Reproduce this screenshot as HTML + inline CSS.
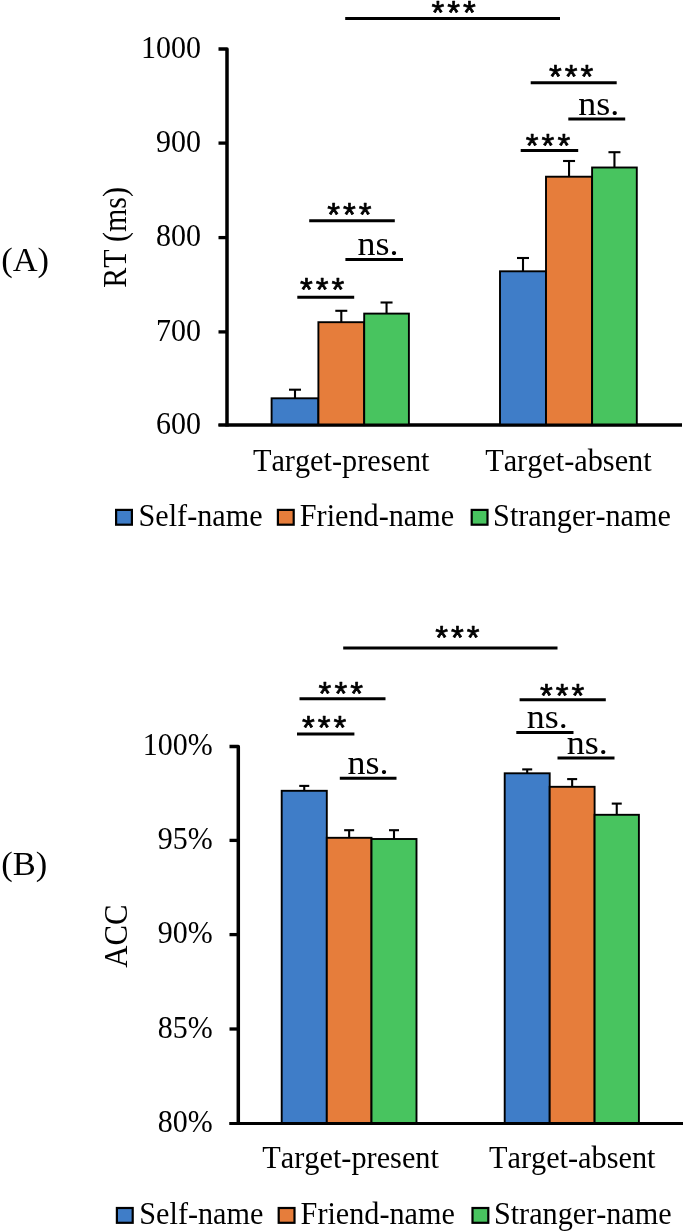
<!DOCTYPE html>
<html lang="en"><head><meta charset="utf-8"><title>Figure</title>
<style>
html,body{margin:0;padding:0;background:#fff;}
svg{display:block;font-family:'Liberation Serif', 'DejaVu Serif', serif;fill:#000;font-kerning:none;}
</style></head>
<body>
<svg width="685" height="1232" viewBox="0 0 685 1232">
<rect x="0" y="0" width="685" height="1232" fill="#fff"/>
<path d="M218.5,49.0 L227,49.0 L227,426.6" fill="none" stroke="#000" stroke-width="3.5" stroke-linejoin="round"/>
<line x1="218.5" y1="425.1" x2="682" y2="425.1" stroke="#000" stroke-width="3"/>
<text transform="translate(201,433.9) scale(0.9346,1)" font-size="32.10" text-anchor="end" >600</text>
<line x1="218.5" y1="331.9" x2="227" y2="331.9" stroke="#000" stroke-width="3.3"/>
<text transform="translate(201,340.7) scale(0.9346,1)" font-size="32.10" text-anchor="end" >700</text>
<line x1="218.5" y1="237.6" x2="227" y2="237.6" stroke="#000" stroke-width="3.3"/>
<text transform="translate(201,246.4) scale(0.9346,1)" font-size="32.10" text-anchor="end" >800</text>
<line x1="218.5" y1="143.1" x2="227" y2="143.1" stroke="#000" stroke-width="3.3"/>
<text transform="translate(201,151.9) scale(0.9346,1)" font-size="32.10" text-anchor="end" >900</text>
<text transform="translate(201,57.8) scale(0.9346,1)" font-size="32.10" text-anchor="end" >1000</text>
<line x1="295.0" y1="398.3" x2="295.0" y2="389.7" stroke="#000" stroke-width="2.1"/>
<line x1="289.0" y1="389.7" x2="301.0" y2="389.7" stroke="#000" stroke-width="2.1"/>
<line x1="341.3" y1="322.2" x2="341.3" y2="310.8" stroke="#000" stroke-width="2.1"/>
<line x1="335.3" y1="310.8" x2="347.3" y2="310.8" stroke="#000" stroke-width="2.1"/>
<line x1="386.55" y1="313.6" x2="386.55" y2="302.5" stroke="#000" stroke-width="2.1"/>
<line x1="380.55" y1="302.5" x2="392.55" y2="302.5" stroke="#000" stroke-width="2.1"/>
<line x1="523.0" y1="271.3" x2="523.0" y2="258" stroke="#000" stroke-width="2.1"/>
<line x1="517.0" y1="258" x2="529.0" y2="258" stroke="#000" stroke-width="2.1"/>
<line x1="569.05" y1="176.7" x2="569.05" y2="161" stroke="#000" stroke-width="2.1"/>
<line x1="563.05" y1="161" x2="575.05" y2="161" stroke="#000" stroke-width="2.1"/>
<line x1="614.45" y1="167.5" x2="614.45" y2="152.2" stroke="#000" stroke-width="2.1"/>
<line x1="608.45" y1="152.2" x2="620.45" y2="152.2" stroke="#000" stroke-width="2.1"/>
<rect x="271.6" y="398.3" width="46.80" height="26.80" fill="#3f7dc8" stroke="#000" stroke-width="1.9"/>
<rect x="318.4" y="322.2" width="45.80" height="102.90" fill="#e67d3b" stroke="#000" stroke-width="1.9"/>
<rect x="364.2" y="313.6" width="44.70" height="111.50" fill="#48c45f" stroke="#000" stroke-width="1.9"/>
<rect x="500.0" y="271.3" width="46.00" height="153.80" fill="#3f7dc8" stroke="#000" stroke-width="1.9"/>
<rect x="546.0" y="176.7" width="46.10" height="248.40" fill="#e67d3b" stroke="#000" stroke-width="1.9"/>
<rect x="592.1" y="167.5" width="44.70" height="257.60" fill="#48c45f" stroke="#000" stroke-width="1.9"/>
<line x1="218.5" y1="425.1" x2="682" y2="425.1" stroke="#000" stroke-width="3"/>
<line x1="345.2" y1="18.4" x2="560" y2="18.4" stroke="#000" stroke-width="3"/>
<text x="431.52" y="24.05" font-size="32.8" letter-spacing="3.04" stroke="#000" stroke-width="0.7" stroke-linejoin="round" font-family="'Liberation Sans', 'DejaVu Sans', sans-serif">***</text>
<line x1="530.7" y1="82.7" x2="616.7" y2="82.7" stroke="#000" stroke-width="3"/>
<text x="549.02" y="87.95" font-size="32.8" letter-spacing="3.04" stroke="#000" stroke-width="0.7" stroke-linejoin="round" font-family="'Liberation Sans', 'DejaVu Sans', sans-serif">***</text>
<line x1="568.3" y1="119.1" x2="625.2" y2="119.1" stroke="#000" stroke-width="3"/>
<text transform="translate(578.3,114.7) scale(1.0753,1)" font-size="33.48" text-anchor="start" >ns.</text>
<line x1="520.7" y1="150.4" x2="578.2" y2="150.4" stroke="#000" stroke-width="3"/>
<text x="525.82" y="157.35" font-size="32.8" letter-spacing="3.04" stroke="#000" stroke-width="0.7" stroke-linejoin="round" font-family="'Liberation Sans', 'DejaVu Sans', sans-serif">***</text>
<line x1="309.2" y1="220.8" x2="394.8" y2="220.8" stroke="#000" stroke-width="3"/>
<text x="327.22" y="226.45" font-size="32.8" letter-spacing="3.04" stroke="#000" stroke-width="0.7" stroke-linejoin="round" font-family="'Liberation Sans', 'DejaVu Sans', sans-serif">***</text>
<line x1="345.4" y1="259.4" x2="403" y2="259.4" stroke="#000" stroke-width="3"/>
<text transform="translate(357.5,255.4) scale(1.0753,1)" font-size="33.48" text-anchor="start" >ns.</text>
<line x1="297.3" y1="297.2" x2="354.2" y2="297.2" stroke="#000" stroke-width="3"/>
<text x="299.92" y="301.45" font-size="32.8" letter-spacing="3.04" stroke="#000" stroke-width="0.7" stroke-linejoin="round" font-family="'Liberation Sans', 'DejaVu Sans', sans-serif">***</text>
<text transform="translate(341.2,470.6) scale(0.9346,1)" font-size="32.42" text-anchor="middle" >Target-present</text>
<text transform="translate(568.4,470.6) scale(0.9346,1)" font-size="32.42" text-anchor="middle" >Target-absent</text>
<text x="1.2" y="271" font-size="34.5" text-anchor="start" >(A)</text>
<text transform="translate(125.6,237.4) rotate(-90) scale(0.895,1)" font-size="33.5" text-anchor="middle">RT (ms)</text>
<rect x="116.10" y="509.90" width="15.8" height="14.8" fill="#3f7dc8" stroke="#000" stroke-width="2.2"/>
<text transform="translate(138.5,526.1) scale(0.9346,1)" font-size="32.31" text-anchor="start" >Self-name</text>
<rect x="277.90" y="509.90" width="15.8" height="14.8" fill="#e67d3b" stroke="#000" stroke-width="2.2"/>
<text transform="translate(299.8,526.1) scale(0.9346,1)" font-size="32.31" text-anchor="start" >Friend-name</text>
<rect x="471.70" y="509.90" width="15.8" height="14.8" fill="#48c45f" stroke="#000" stroke-width="2.2"/>
<text transform="translate(493.1,526.1) scale(0.9346,1)" font-size="32.31" text-anchor="start" >Stranger-name</text>
<path d="M229.5,746.6 L238.3,746.6 L238.3,1125.0" fill="none" stroke="#000" stroke-width="3.5" stroke-linejoin="round"/>
<line x1="229.5" y1="1123.5" x2="683" y2="1123.5" stroke="#000" stroke-width="3"/>
<text transform="translate(212.8,1132.1) scale(0.9346,1)" font-size="32.10" text-anchor="end" >80%</text>
<line x1="229.5" y1="1029.0" x2="238.3" y2="1029.0" stroke="#000" stroke-width="3.3"/>
<text transform="translate(212.8,1037.6) scale(0.9346,1)" font-size="32.10" text-anchor="end" >85%</text>
<line x1="229.5" y1="934.6" x2="238.3" y2="934.6" stroke="#000" stroke-width="3.3"/>
<text transform="translate(212.8,943.2) scale(0.9346,1)" font-size="32.10" text-anchor="end" >90%</text>
<line x1="229.5" y1="840.4" x2="238.3" y2="840.4" stroke="#000" stroke-width="3.3"/>
<text transform="translate(212.8,849.0) scale(0.9346,1)" font-size="32.10" text-anchor="end" >95%</text>
<text transform="translate(212.8,755.2) scale(0.9346,1)" font-size="32.10" text-anchor="end" >100%</text>
<line x1="304.25" y1="790.8" x2="304.25" y2="785.9" stroke="#000" stroke-width="2.1"/>
<line x1="299.25" y1="785.9" x2="309.25" y2="785.9" stroke="#000" stroke-width="2.1"/>
<line x1="349.15" y1="837.8" x2="349.15" y2="830.2" stroke="#000" stroke-width="2.1"/>
<line x1="344.15" y1="830.2" x2="354.15" y2="830.2" stroke="#000" stroke-width="2.1"/>
<line x1="394.0" y1="839.0" x2="394.0" y2="830.2" stroke="#000" stroke-width="2.1"/>
<line x1="389.0" y1="830.2" x2="399.0" y2="830.2" stroke="#000" stroke-width="2.1"/>
<line x1="527.2" y1="773.3" x2="527.2" y2="769.4" stroke="#000" stroke-width="2.1"/>
<line x1="522.2" y1="769.4" x2="532.2" y2="769.4" stroke="#000" stroke-width="2.1"/>
<line x1="572.15" y1="786.8" x2="572.15" y2="779.1" stroke="#000" stroke-width="2.1"/>
<line x1="567.15" y1="779.1" x2="577.15" y2="779.1" stroke="#000" stroke-width="2.1"/>
<line x1="616.75" y1="814.8" x2="616.75" y2="803.6" stroke="#000" stroke-width="2.1"/>
<line x1="611.75" y1="803.6" x2="621.75" y2="803.6" stroke="#000" stroke-width="2.1"/>
<rect x="281.7" y="790.8" width="45.10" height="332.70" fill="#3f7dc8" stroke="#000" stroke-width="1.9"/>
<rect x="326.8" y="837.8" width="44.70" height="285.70" fill="#e67d3b" stroke="#000" stroke-width="1.9"/>
<rect x="371.5" y="839.0" width="45.00" height="284.50" fill="#48c45f" stroke="#000" stroke-width="1.9"/>
<rect x="504.7" y="773.3" width="45.00" height="350.20" fill="#3f7dc8" stroke="#000" stroke-width="1.9"/>
<rect x="549.7" y="786.8" width="44.90" height="336.70" fill="#e67d3b" stroke="#000" stroke-width="1.9"/>
<rect x="594.6" y="814.8" width="44.30" height="308.70" fill="#48c45f" stroke="#000" stroke-width="1.9"/>
<line x1="229.5" y1="1123.5" x2="683" y2="1123.5" stroke="#000" stroke-width="3"/>
<line x1="343.2" y1="648.0" x2="557.5" y2="648.0" stroke="#000" stroke-width="3"/>
<text x="435.22" y="648.95" font-size="32.8" letter-spacing="3.04" stroke="#000" stroke-width="0.7" stroke-linejoin="round" font-family="'Liberation Sans', 'DejaVu Sans', sans-serif">***</text>
<line x1="299.5" y1="698.8" x2="385.5" y2="698.8" stroke="#000" stroke-width="3"/>
<text x="318.62" y="705.45" font-size="32.8" letter-spacing="3.04" stroke="#000" stroke-width="0.7" stroke-linejoin="round" font-family="'Liberation Sans', 'DejaVu Sans', sans-serif">***</text>
<line x1="297" y1="734.1" x2="354.4" y2="734.1" stroke="#000" stroke-width="3"/>
<text x="301.92" y="739.45" font-size="32.8" letter-spacing="3.04" stroke="#000" stroke-width="0.7" stroke-linejoin="round" font-family="'Liberation Sans', 'DejaVu Sans', sans-serif">***</text>
<line x1="339.8" y1="778.3" x2="396.5" y2="778.3" stroke="#000" stroke-width="3"/>
<text transform="translate(347.5,774.4) scale(1.0753,1)" font-size="33.48" text-anchor="start" >ns.</text>
<line x1="519.6" y1="699.8" x2="605.8" y2="699.8" stroke="#000" stroke-width="3"/>
<text x="540.02" y="707.15" font-size="32.8" letter-spacing="3.04" stroke="#000" stroke-width="0.7" stroke-linejoin="round" font-family="'Liberation Sans', 'DejaVu Sans', sans-serif">***</text>
<line x1="516.3" y1="732.5" x2="573.5" y2="732.5" stroke="#000" stroke-width="3"/>
<text transform="translate(526.7,727.8) scale(1.0753,1)" font-size="33.48" text-anchor="start" >ns.</text>
<line x1="557.5" y1="758.1" x2="614.5" y2="758.1" stroke="#000" stroke-width="3"/>
<text transform="translate(566.8,754.0) scale(1.0753,1)" font-size="33.48" text-anchor="start" >ns.</text>
<text transform="translate(350.6,1168.0) scale(0.9346,1)" font-size="32.42" text-anchor="middle" >Target-present</text>
<text transform="translate(572.2,1168.0) scale(0.9346,1)" font-size="32.42" text-anchor="middle" >Target-absent</text>
<text x="1.2" y="875" font-size="34.5" text-anchor="start" >(B)</text>
<text transform="translate(127.0,936) rotate(-90) scale(0.92,1)" font-size="33.5" text-anchor="middle">ACC</text>
<rect x="116.90" y="1208.00" width="15.8" height="14.8" fill="#3f7dc8" stroke="#000" stroke-width="2.2"/>
<text transform="translate(139.3,1224.2) scale(0.9346,1)" font-size="32.31" text-anchor="start" >Self-name</text>
<rect x="278.70" y="1208.00" width="15.8" height="14.8" fill="#e67d3b" stroke="#000" stroke-width="2.2"/>
<text transform="translate(300.6,1224.2) scale(0.9346,1)" font-size="32.31" text-anchor="start" >Friend-name</text>
<rect x="472.50" y="1208.00" width="15.8" height="14.8" fill="#48c45f" stroke="#000" stroke-width="2.2"/>
<text transform="translate(493.9,1224.2) scale(0.9346,1)" font-size="32.31" text-anchor="start" >Stranger-name</text>
</svg>
</body></html>
